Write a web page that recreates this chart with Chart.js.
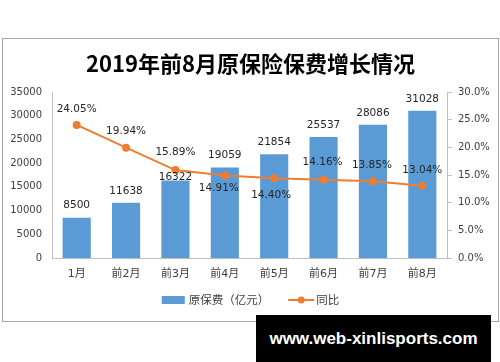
<!DOCTYPE html>
<html>
<head>
<meta charset="utf-8">
<script src="https://cdn.jsdelivr.net/npm/chart.js@4.4.0/dist/chart.umd.min.js"></script>
<style>
body{margin:0;background:#fff;width:500px;height:362px;overflow:hidden;position:relative;}
#box{position:absolute;left:2px;top:38px;width:497px;height:284px;border:1px solid #a6a6a6;box-sizing:border-box;background:#fff;}
#mark{position:absolute;left:256px;top:315px;width:235px;height:47px;background:#000;color:#fff;font:bold 17px "Liberation Sans",Arial,sans-serif;line-height:47px;text-align:center;}
</style>
</head>
<body>
<div id="box"><canvas id="canvas" width="495" height="282"></canvas></div>
<div id="mark">www.web-xinlisports.com</div>
<script>
var categories = ['1月', '前2月', '前3月', '前4月', '前5月', '前6月', '前7月', '前8月'];
var premium = [8500, 11638, 16322, 19059, 21854, 25537, 28086, 31028];
var growth = [24.05, 19.94, 15.89, 14.91, 14.40, 14.16, 13.85, 13.04];
var seriesNames = ['原保费（亿元）', '同比'];

var blue = '#5b9bd5';
var orange = '#ed7d31';
var axisGrey = '#bfbfbf';
var tickFont = {family: 'DejaVu Sans, "Noto Sans CJK SC"', size: 10};

// data labels above bars / around points
var valueLabels = {
    id: 'valueLabels',
    afterDatasetsDraw: function(chart, args, opts) {
        var ctx = chart.ctx;
        ctx.save();
        ctx.font = '10.5px "DejaVu Sans"';
        ctx.fillStyle = '#262626';
        ctx.textAlign = 'center';
        ctx.textBaseline = 'middle';
        chart.data.datasets.forEach(function(ds, i) {
            var meta = chart.getDatasetMeta(i);
            var shifts = opts.shifts[i];
            meta.data.forEach(function(el, j) {
                var v = ds.data[j];
                var txt = ds.type == 'line' ? v.toFixed(2) + '%' : String(v);
                ctx.fillText(txt, el.x + shifts[j][0], el.y + shifts[j][1]);
            });
        });
        ctx.restore();
    }
};

// legend drawn by hand: bar box + line with a dot
var bottomLegend = {
    id: 'bottomLegend',
    afterDraw: function(chart, args, opts) {
        var ctx = chart.ctx;
        var bar = chart.data.datasets.filter(function(d) { return d.type == 'bar'; })[0];
        var line = chart.data.datasets.filter(function(d) { return d.type == 'line'; })[0];
        ctx.save();
        ctx.font = '11.5px "Noto Sans CJK SC"';
        ctx.textBaseline = 'middle';
        var w1 = ctx.measureText(bar.label).width;
        var w2 = ctx.measureText(line.label).width;
        var total = 23 + 4 + w1 + 19 + 26 + 2 + w2;
        var x = chart.width / 2 - total / 2;
        var y = opts.y;
        ctx.fillStyle = bar.backgroundColor;
        ctx.fillRect(x, y - 4, 23, 8);
        x += 27;
        ctx.fillStyle = '#404040';
        ctx.fillText(bar.label, x, y);
        x += w1 + 19;
        ctx.strokeStyle = line.borderColor;
        ctx.lineWidth = 2;
        ctx.beginPath();
        ctx.moveTo(x, y);
        ctx.lineTo(x + 26, y);
        ctx.stroke();
        ctx.fillStyle = line.borderColor;
        ctx.beginPath();
        ctx.arc(x + 13, y, 3.5, 0, Math.PI * 2);
        ctx.fill();
        x += 28;
        ctx.fillStyle = '#404040';
        ctx.fillText(line.label, x, y);
        ctx.restore();
    }
};

var ctx = document.getElementById('canvas').getContext('2d');
window.myChart = new Chart(ctx, {
    data: {
        labels: categories,
        datasets: [{
            type: 'line',
            label: seriesNames[1],
            data: growth,
            yAxisID: 'y1',
            borderColor: orange,
            backgroundColor: orange,
            borderWidth: 2,
            pointRadius: 4,
            pointBackgroundColor: orange,
            pointBorderWidth: 0,
            order: 0
        }, {
            type: 'bar',
            label: seriesNames[0],
            data: premium,
            yAxisID: 'y',
            backgroundColor: blue,
            categoryPercentage: 1,
            barPercentage: 0.57,
            order: 1
        }]
    },
    plugins: [valueLabels, bottomLegend],
    options: {
        responsive: false,
        animation: false,
        layout: {padding: {left: 0, right: 0, top: 0, bottom: 33}},
        plugins: {
            legend: {display: false},
            tooltip: {enabled: false},
            title: {
                display: true,
                text: '2019年前8月原保险保费增长情况',
                color: '#000',
                font: {family: '"Noto Sans CJK SC"', size: 22, weight: 'bold', lineHeight: 1.2},
                padding: {top: 11, bottom: 15.6}
            },
            valueLabels: {
                shifts: [
                    [[0, -16], [0, -16], [0, -18], [-6, 13], [-3, 17], [-1, -17], [-1, -16], [0, -16]],
                    [[0, -12], [0, -12], [0, -3], [0, -12], [0, -12], [0, -12], [0, -12], [0, -12]]
                ]
            },
            bottomLegend: {y: 261}
        },
        scales: {
            x: {
                grid: {display: false, drawTicks: false},
                border: {display: true, color: axisGrey},
                ticks: {color: '#404040', font: {family: 'DejaVu Sans, "Noto Sans CJK SC"', size: 11}, padding: 10, maxRotation: 0},
                afterFit: function(s) { s.height = 30; }
            },
            y: {
                position: 'left',
                min: 0, max: 35000,
                grid: {display: false, drawTicks: false},
                border: {display: true, color: axisGrey},
                ticks: {stepSize: 5000, color: '#404040', font: tickFont, padding: 10,
                    callback: function(v) { return String(v); }},
                afterFit: function(s) { s.width = 49; }
            },
            y1: {
                position: 'right',
                min: 0, max: 30,
                grid: {display: true, drawOnChartArea: false, drawTicks: true, tickLength: 5, color: axisGrey},
                border: {display: true, color: axisGrey},
                ticks: {stepSize: 5, color: '#404040', font: tickFont, padding: 6,
                    callback: function(v) { return v.toFixed(1) + '%'; }},
                afterFit: function(s) { s.width = 51; }
            }
        }
    }
});
</script>
</body>
</html>
